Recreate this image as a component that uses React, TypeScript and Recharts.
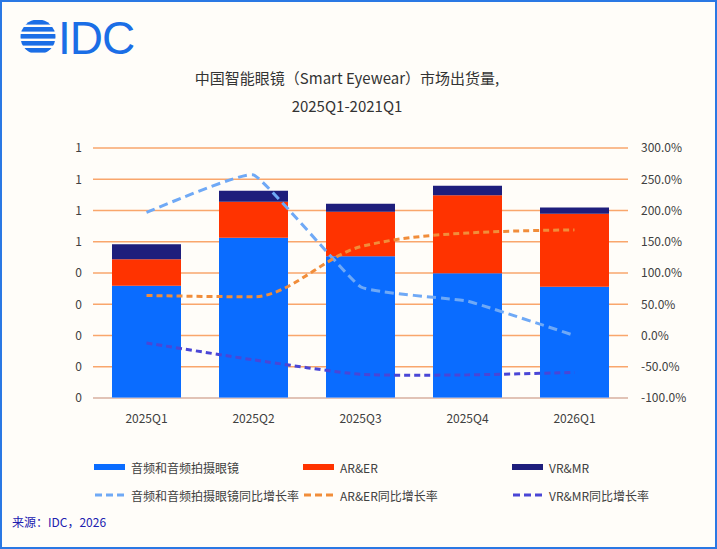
import {
  Bar,
  CartesianGrid,
  ComposedChart,
  Line,
  XAxis,
  YAxis,
} from "recharts";

const quarters = ["2025Q1", "2025Q2", "2025Q3", "2025Q4", "2026Q1"];

// shipments (left axis)
const audioGlasses = [0.359, 0.513, 0.454, 0.399, 0.356];
const arEr = [0.085, 0.115, 0.142, 0.25, 0.234];
const vrMr = [0.048, 0.035, 0.026, 0.03, 0.02];

// YoY growth in % (right axis)
const audioYoY = [197, 257, 78, 55, 0];
const arErYoY = [64, 62, 142, 164, 169];
const vrMrYoY = [-12, -39, -62, -63, -59];

const leftTicks = [0, 0.1, 0.2, 0.3, 0.4, 0.5, 0.6, 0.7, 0.8];
const rightTicks = [-100, -50, 0, 50, 100, 150, 200, 250, 300];

const data = quarters.map((q, i) => ({
  q,
  audio: audioGlasses[i],
  ar: arEr[i],
  vr: vrMr[i],
  audioYoY: audioYoY[i],
  arYoY: arErYoY[i],
  vrYoY: vrMrYoY[i],
}));

const font = '"Noto Sans CJK SC", "Noto Sans", sans-serif';
const tick = { fill: "#404040", fontSize: 12, fontFamily: font } as const;

const barItems = [
  { name: "音频和音频拍摄眼镜", color: "#0a6cff" },
  { name: "AR&ER", color: "#ff3300" },
  { name: "VR&MR", color: "#1e1e7c" },
];
const lineItems = [
  { name: "音频和音频拍摄眼镜同比增长率", color: "#6fa9f6" },
  { name: "AR&ER同比增长率", color: "#f18d3a" },
  { name: "VR&MR同比增长率", color: "#4a46d6" },
];

// loose Catmull-Rom style smoothing, close to Excel's "smoothed line"
function softCurve(k: number) {
  return (ctx: any) => {
    let pts: [number, number][] = [];
    return {
      areaStart() {},
      areaEnd() {},
      lineStart() {
        pts = [];
      },
      point(x: number, y: number) {
        pts.push([+x, +y]);
      },
      lineEnd() {
        if (!pts.length) return;
        ctx.moveTo(pts[0][0], pts[0][1]);
        for (let i = 0; i < pts.length - 1; i++) {
          const p0 = pts[Math.max(i - 1, 0)];
          const p1 = pts[i];
          const p2 = pts[i + 1];
          const p3 = pts[Math.min(i + 2, pts.length - 1)];
          ctx.bezierCurveTo(
            p1[0] + ((p2[0] - p0[0]) * k) / 6,
            p1[1] + ((p2[1] - p0[1]) * k) / 6,
            p2[0] - ((p3[0] - p1[0]) * k) / 6,
            p2[1] - ((p3[1] - p1[1]) * k) / 6,
            p2[0],
            p2[1]
          );
        }
      },
    };
  };
}

function Logo() {
  const stripes = [0, 1, 2, 3, 4];
  return (
    <>
      <svg
        width={40}
        height={46}
        style={{ position: "absolute", left: 16, top: 12 }}
      >
        <defs>
          <clipPath id="logoClip">
            <circle cx={20} cy={23} r={17.5} />
          </clipPath>
        </defs>
        <g clipPath="url(#logoClip)">
          {stripes.map((s) => (
            <rect
              key={s}
              x={0}
              y={6 + s * 7}
              width={40}
              height={4.6}
              fill="#1b6ee6"
            />
          ))}
        </g>
      </svg>
      <div
        style={{
          position: "absolute",
          left: 56,
          top: 13,
          fontSize: 46,
          lineHeight: "46px",
          letterSpacing: -1,
          color: "#1b6ee6",
          fontFamily: '"Liberation Sans", Arial, sans-serif',
        }}
      >
        IDC
      </div>
    </>
  );
}

export default function App() {
  return (
    <div
      style={{
        position: "relative",
        width: 717,
        height: 549,
        boxSizing: "border-box",
        border: "2px solid #2a78e4",
        background: "#fffdf9",
        fontFamily: font,
        overflow: "hidden",
      }}
    >
      <style>{"body{margin:0}"}</style>
      <Logo />
      <div
        style={{
          position: "absolute",
          left: 0,
          width: 690,
          top: 62,
          textAlign: "center",
          fontSize: 15,
          lineHeight: "28px",
          color: "#333",
        }}
      >
        <div>中国智能眼镜（Smart Eyewear）市场出货量,</div>
        <div>2025Q1-2021Q1</div>
      </div>
      <div style={{ position: "absolute", left: -2, top: -2 }}>
        <ComposedChart
          width={717}
          height={430}
          data={data}
          margin={{ top: 148, right: 19, bottom: 2, left: 63 }}
        >
          <CartesianGrid
            yAxisId="left"
            vertical={false}
            stroke="#f9a66c"
            strokeWidth={1.5}
          />
          <XAxis
            dataKey="q"
            tick={tick}
            tickLine={false}
            axisLine={{ stroke: "#c9cadc" }}
            tickMargin={10}
            height={30}
          />
          <YAxis
            yAxisId="left"
            domain={[0, 0.8]}
            ticks={leftTicks}
            tick={tick}
            tickLine={false}
            axisLine={false}
            tickMargin={5}
            width={30}
            tickFormatter={(v: number) => String(Math.round(v + 1e-9))}
          />
          <YAxis
            yAxisId="right"
            orientation="right"
            domain={[-100, 300]}
            ticks={rightTicks}
            tick={tick}
            tickLine={false}
            axisLine={false}
            tickMargin={7}
            width={70}
            tickFormatter={(v: number) => `${v.toFixed(1)}%`}
          />
          <Bar
            yAxisId="left"
            dataKey="audio"
            stackId="s"
            fill={barItems[0].color}
            barSize={69}
            isAnimationActive={false}
          />
          <Bar
            yAxisId="left"
            dataKey="ar"
            stackId="s"
            fill={barItems[1].color}
            barSize={69}
            isAnimationActive={false}
          />
          <Bar
            yAxisId="left"
            dataKey="vr"
            stackId="s"
            fill={barItems[2].color}
            barSize={69}
            isAnimationActive={false}
          />
          <Line
            yAxisId="right"
            dataKey="audioYoY"
            type={softCurve(0.3) as any}
            stroke={lineItems[0].color}
            strokeWidth={3}
            strokeDasharray="9 5"
            dot={false}
            isAnimationActive={false}
          />
          <Line
            yAxisId="right"
            dataKey="arYoY"
            type="monotone"
            stroke={lineItems[1].color}
            strokeWidth={3}
            strokeDasharray="6 4"
            dot={false}
            isAnimationActive={false}
          />
          <Line
            yAxisId="right"
            dataKey="vrYoY"
            type={softCurve(0.6) as any}
            stroke={lineItems[2].color}
            strokeWidth={3}
            strokeDasharray="6 4"
            dot={false}
            isAnimationActive={false}
          />
        </ComposedChart>
      </div>
      {[barItems, lineItems].map((row, r) =>
        row.map((item, i) => (
          <div
            key={item.name}
            style={{
              position: "absolute",
              left: 92 + i * 209,
              top: 455 + r * 28,
              height: 20,
              display: "flex",
              alignItems: "center",
              fontSize: 12,
              color: "#404040",
              whiteSpace: "nowrap",
            }}
          >
            {r === 0 ? (
              <span
                style={{
                  width: 31,
                  height: 6,
                  background: item.color,
                  marginRight: 6,
                }}
              />
            ) : (
              <svg width={31} height={6} style={{ marginRight: 6 }}>
                <line
                  x1={1}
                  y1={3}
                  x2={31}
                  y2={3}
                  stroke={item.color}
                  strokeWidth={3}
                  strokeDasharray="7 4"
                />
              </svg>
            )}
            {item.name}
          </div>
        ))
      )}
      <div
        style={{
          position: "absolute",
          left: 10,
          top: 511,
          fontSize: 12,
          color: "#2020b0",
        }}
      >
        来源：IDC，2026
      </div>
    </div>
  );
}
